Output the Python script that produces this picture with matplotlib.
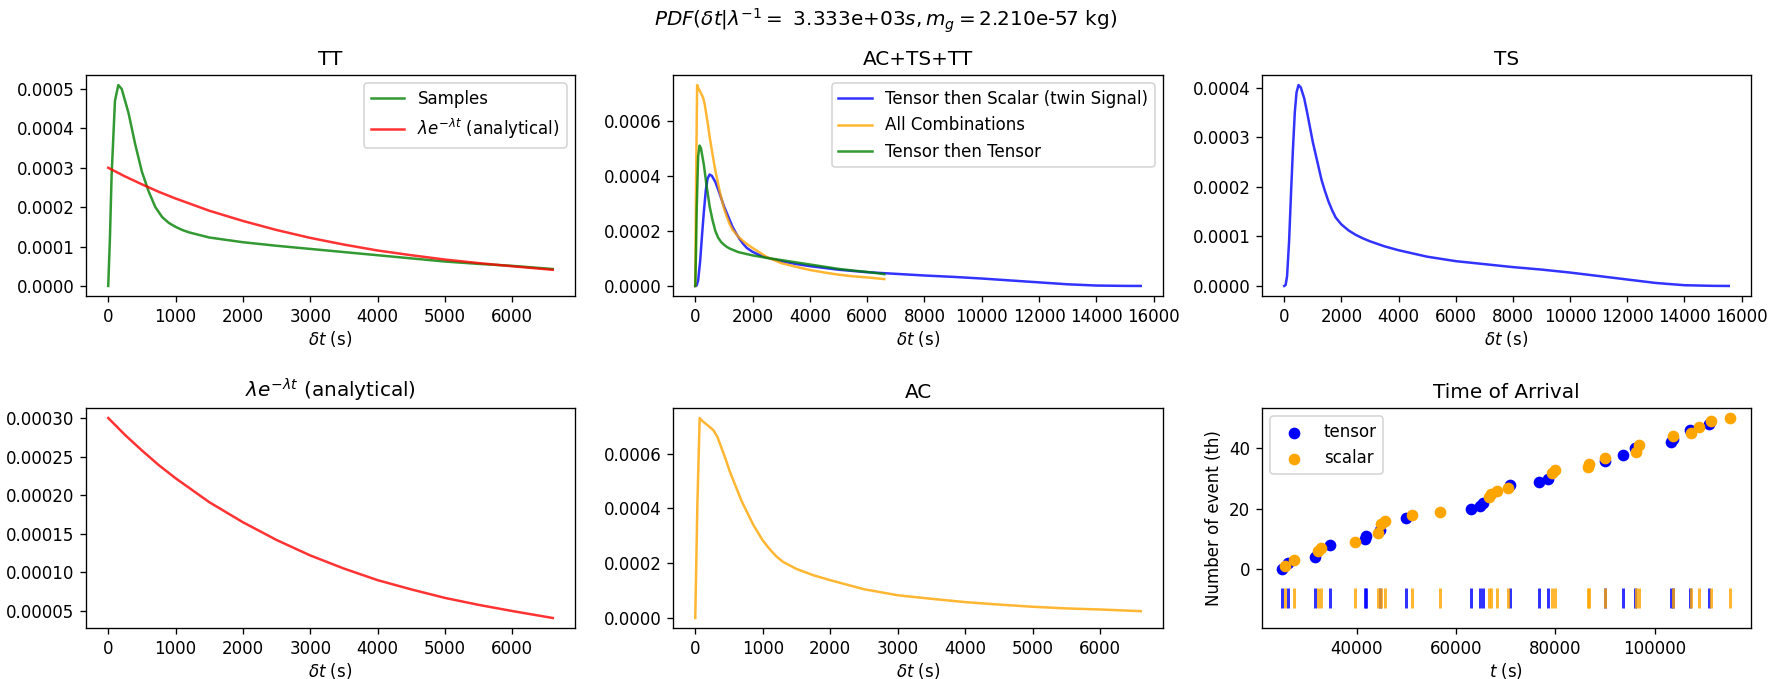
import matplotlib
matplotlib.use("Agg")
import matplotlib.pyplot as plt

# --- TT: tensor then tensor (samples) ---
t_tt = [0, 25, 50, 100, 150, 200, 300, 400, 500, 600, 700, 800, 900, 1000,
        1100, 1200, 1500, 2000, 2500, 3000, 3500, 4000, 4500, 5000, 5500,
        6000, 6600]
pdf_tt = [0, 1.2e-4, 2.8e-4, 4.7e-4, 5.1e-4, 5.0e-4, 4.4e-4, 3.6e-4, 2.9e-4,
          2.4e-4, 2.0e-4, 1.75e-4, 1.6e-4, 1.5e-4, 1.42e-4, 1.36e-4, 1.23e-4,
          1.11e-4, 1.02e-4, 0.94e-4, 0.86e-4, 0.78e-4, 0.70e-4, 0.62e-4,
          0.56e-4, 0.51e-4, 0.43e-4]

# --- analytical lambda*exp(-lambda t) ---
t_an = [0, 250, 500, 750, 1000, 1500, 2000, 2500, 3000, 3500, 4000, 4500,
        5000, 5500, 6000, 6600]
pdf_an = [3.0e-4, 2.78e-4, 2.58e-4, 2.39e-4, 2.22e-4, 1.91e-4, 1.65e-4,
          1.42e-4, 1.22e-4, 1.05e-4, 0.90e-4, 0.78e-4, 0.67e-4, 0.58e-4,
          0.50e-4, 0.41e-4]

# --- AC: all combinations ---
t_ac = [0, 30, 65, 100, 150, 200, 270, 330, 390, 450, 510, 600, 690, 780, 860,
        1000, 1100, 1200, 1300, 1500, 1750, 2000, 2500, 3000, 3500, 4000,
        4500, 5000, 5500, 6000, 6600]
pdf_ac = [0, 4.0e-4, 7.3e-4, 7.2e-4, 7.1e-4, 7.0e-4, 6.85e-4, 6.6e-4, 6.2e-4,
          5.8e-4, 5.36e-4, 4.8e-4, 4.25e-4, 3.8e-4, 3.4e-4, 2.83e-4, 2.52e-4,
          2.25e-4, 2.05e-4, 1.79e-4, 1.56e-4, 1.38e-4, 1.05e-4, 0.83e-4,
          0.70e-4, 0.58e-4, 0.49e-4, 0.41e-4, 0.35e-4, 0.31e-4, 0.25e-4]

# --- TS: tensor then scalar (twin signal) ---
t_ts = [0, 50, 100, 170, 240, 300, 370, 430, 500, 580, 700, 800, 900, 1000,
        1160, 1300, 1420, 1550, 1680, 1800, 2000, 2250, 2500, 2750, 3000,
        3500, 4000, 5000, 6000, 7000, 8000, 9000, 10000, 11000, 12000, 13000,
        14000, 15000, 15550]
pdf_ts = [0, 0.02e-4, 0.2e-4, 0.9e-4, 1.9e-4, 2.7e-4, 3.5e-4, 3.9e-4, 4.05e-4,
          4.0e-4, 3.78e-4, 3.5e-4, 3.2e-4, 2.9e-4, 2.5e-4, 2.15e-4, 1.92e-4,
          1.7e-4, 1.52e-4, 1.38e-4, 1.24e-4, 1.12e-4, 1.03e-4, 0.96e-4,
          0.90e-4, 0.80e-4, 0.72e-4, 0.59e-4, 0.50e-4, 0.44e-4, 0.38e-4,
          0.33e-4, 0.27e-4, 0.20e-4, 0.13e-4, 0.06e-4, 0.015e-4, 0.002e-4, 0.0]

# --- time of arrival ---
tensor_t = [25100, 26200, 31700, 34600, 41700, 41900, 44700, 50000, 63000,
            64900, 65400, 70800, 76600, 78500, 89900, 93600, 96000, 103300,
            103600, 107000, 110900]
tensor_n = [0, 2, 4, 8, 10, 11, 13, 17, 20, 21, 22, 28, 29, 30, 36, 38, 40,
            42, 43, 46, 48]
scalar_t = [25700, 27500, 32200, 32800, 39600, 44400, 44900, 45700, 51200,
            56700, 66600, 67100, 68200, 70400, 79300, 79900, 86500, 86700,
            90000, 96200, 96800, 103600, 107200, 108900, 111200, 115000]
scalar_n = [1, 3, 6, 7, 9, 12, 15, 16, 18, 19, 24, 25, 26, 27, 32, 33, 34, 35,
            37, 39, 41, 44, 45, 47, 49, 50]

ALPHA = 0.8
W, H = 1772, 679

fig = plt.figure(figsize=(W / 120, H / 120), dpi=120)
fig.suptitle(r"$PDF(\delta t|\lambda^{-1} = $ 3.333e+03$s, m_g = $2.210e-57 kg)",
             y=0.99)

# axes boxes in pixels: (left, right) per column, (top, bottom) per row
cols = [(86, 575), (673, 1163), (1262, 1751)]
rows = [(75, 296), (408, 628)]


def make_ax(r, c):
    x0, x1 = cols[c]
    y0, y1 = rows[r]
    return fig.add_axes([x0 / W, 1 - y1 / H, (x1 - x0) / W, (y1 - y0) / H])


def xlabel(ax, text):
    ax.set_xlabel(text, labelpad=2)


ax = make_ax(0, 0)
ax.plot(t_tt, pdf_tt, color="green", alpha=ALPHA, label="Samples")
ax.plot(t_an, pdf_an, color="red", alpha=ALPHA,
        label=r"$\lambda e^{-\lambda t}$ (analytical)")
ax.set_title("TT")
xlabel(ax, r"$\delta t$ (s)")
ax.legend(loc="upper right")

ax = make_ax(0, 1)
ax.plot(t_ts, pdf_ts, color="blue", alpha=ALPHA,
        label="Tensor then Scalar (twin Signal)")
ax.plot(t_ac, pdf_ac, color="orange", alpha=ALPHA, label="All Combinations")
ax.plot(t_tt, pdf_tt, color="green", alpha=ALPHA, label="Tensor then Tensor")
ax.set_title("AC+TS+TT")
xlabel(ax, r"$\delta t$ (s)")
ax.legend(loc="upper right")

ax = make_ax(0, 2)
ax.plot(t_ts, pdf_ts, color="blue", alpha=ALPHA)
ax.set_title("TS")
xlabel(ax, r"$\delta t$ (s)")

ax = make_ax(1, 0)
ax.plot(t_an, pdf_an, color="red", alpha=ALPHA)
ax.set_title(r"$\lambda e^{-\lambda t}$ (analytical)")
xlabel(ax, r"$\delta t$ (s)")

ax = make_ax(1, 1)
ax.plot(t_ac, pdf_ac, color="orange", alpha=ALPHA)
ax.set_title("AC")
xlabel(ax, r"$\delta t$ (s)")

ax = make_ax(1, 2)
ax.scatter(tensor_t, tensor_n, color="blue", label="tensor")
ax.scatter(scalar_t, scalar_n, color="orange", label="scalar")
ax.vlines(tensor_t, -12.7, -6.3, colors="blue", alpha=ALPHA, lw=1.8)
ax.vlines(scalar_t, -12.7, -6.3, colors="orange", alpha=ALPHA, lw=1.8)
ax.set_xlim(21000, 119300)
ax.set_ylim(-19.4, 53.4)
ax.set_title("Time of Arrival")
xlabel(ax, r"$t$ (s)")
ax.set_ylabel("Number of event (th)")
ax.legend(loc="upper left")

fig.savefig("out.png", dpi=120)
